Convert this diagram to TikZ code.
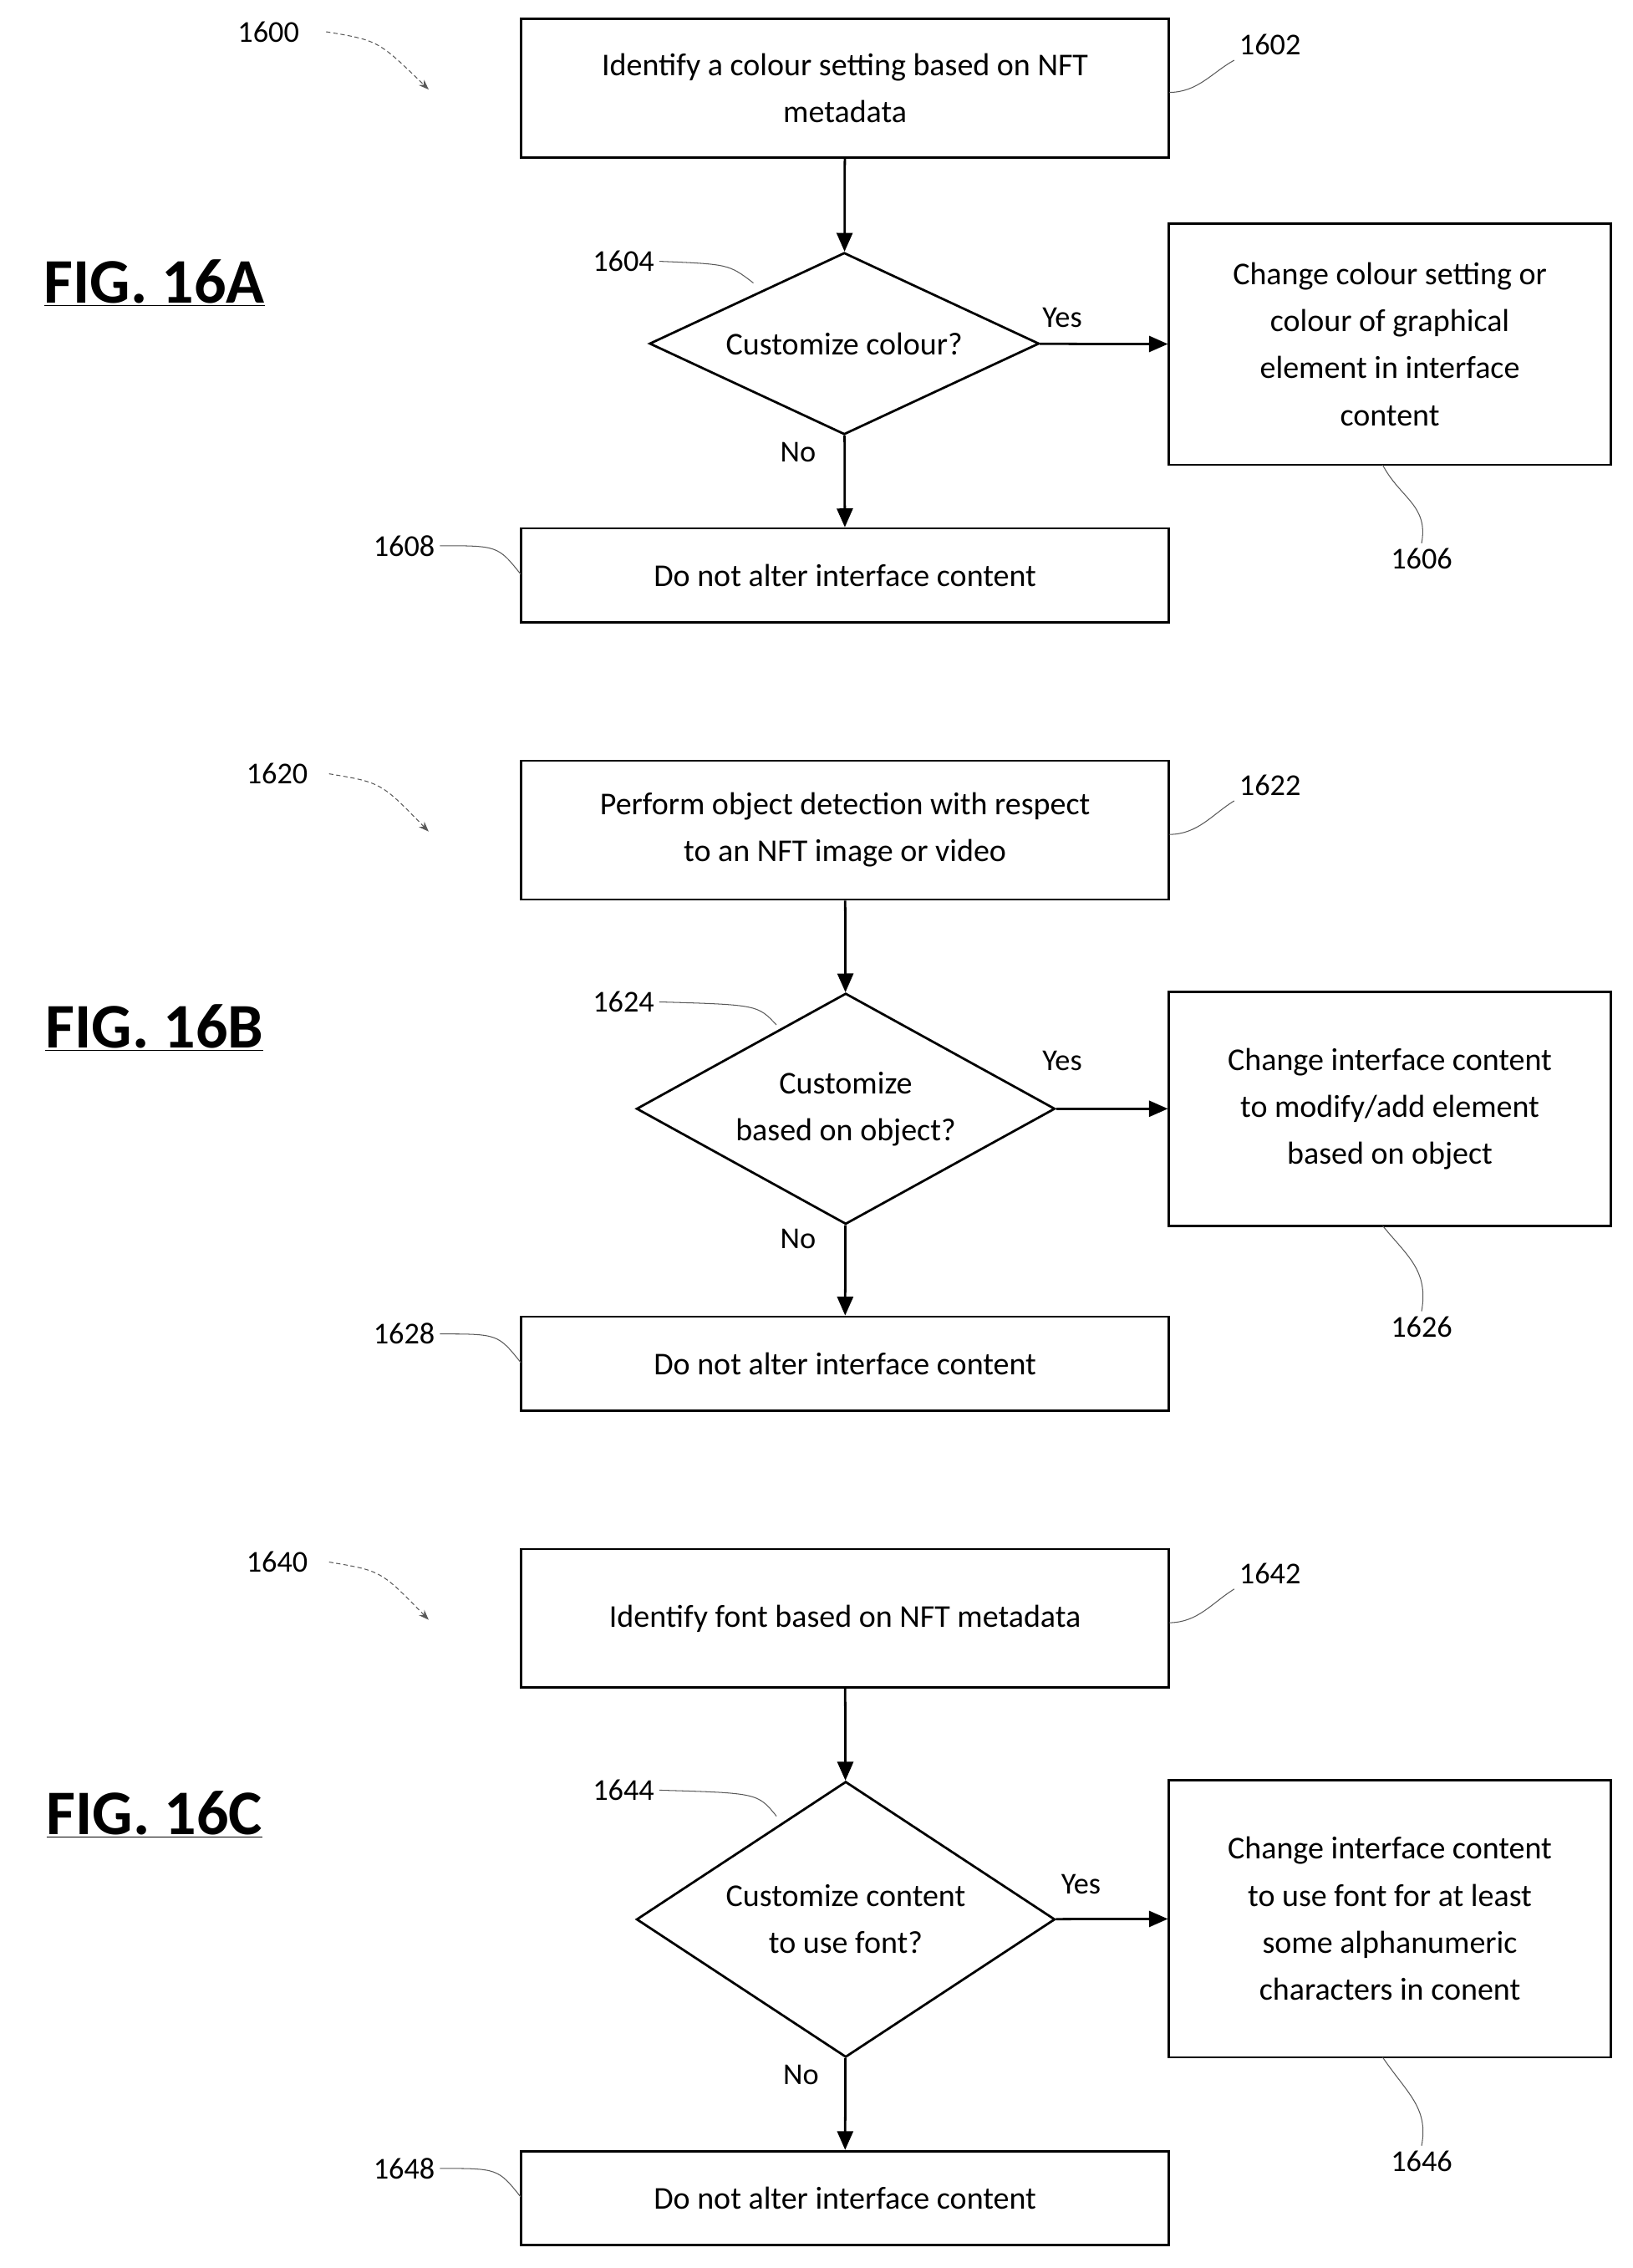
\documentclass[tikz,border=0pt]{standalone}
\usepackage{fontspec}
\setmainfont{Carlito}
\usetikzlibrary{shapes.geometric,arrows.meta}
\begin{document}
\begin{tikzpicture}[x=1pt,y=-1pt,
  box/.style={draw,line width=1.6pt,align=center,inner sep=0pt},
  dia/.style={draw,diamond,line width=1.6pt,inner sep=0pt},
  txt/.style={font=\fontsize{22}{32.5}\selectfont,align=center},
  lbl/.style={font=\fontsize{21}{24}\selectfont},
  fig/.style={font=\fontsize{44}{48}\selectfont\bfseries},
  flow/.style={line width=1.6pt,-{Triangle[length=13pt,width=11pt]}},
  lead/.style={line width=0.6pt,gray!70!black},
  ref/.style={line width=0.6pt,gray!70!black,densely dashed,-{Stealth[length=7pt]}}]
\useasboundingbox (0,0) rectangle (1131,1571);

%% FIG. 16A
\node[fig] (figA) at (107,196) {\underline{FIG. 16A}};
\node[box,minimum width=449,minimum height=96] (b1602) at (585.5,61) {};
\node[txt] at (b1602) {Identify a colour setting based on NFT\\metadata};
\node[dia,minimum width=270,minimum height=126] (d1604) at (585,238) {};
\node[txt] at (d1604) {Customize colour?};
\node[box,minimum width=306,minimum height=167] (b1606) at (963,238.5) {};
\node[txt] at (b1606) {Change colour setting or\\colour of graphical\\element in interface\\content};
\node[box,minimum width=449,minimum height=65] (b1608) at (585.5,398.5) {};
\node[txt] at (b1608) {Do not alter interface content};
\draw[flow] (b1602) -- (d1604);
\draw[flow] (d1604) -- (b1606);
\draw[flow] (d1604) -- (b1608);
\node[lbl] at (736,220) {Yes};
\node[lbl] at (553,313) {No};
\node[lbl] (n1600) at (186,22) {1600};
\draw[ref] (226,22) .. controls (262,28) .. (297,62);
\node[lbl] (n1602) at (880,31) {1602};
\draw[lead] (810,64) .. controls (830,64) and (840,50) .. (n1602.south west);
\node[lbl] (n1604) at (432,181) {1604};
\draw[lead] (n1604.east) .. controls (505,183) .. (522,196);
\node[lbl] (n1606) at (985,387) {1606};
\draw[lead] (958,322) .. controls (970,345) and (990,350) .. (n1606.north);
\node[lbl] (n1608) at (280,378) {1608};
\draw[lead] (n1608.east) .. controls (345,378) .. (361,398);

%% FIG. 16B
\node[fig] (figB) at (107,712) {\underline{FIG. 16B}};
\node[box,minimum width=449,minimum height=96] (b1622) at (585.5,575) {};
\node[txt] at (b1622) {Perform object detection with respect\\to an NFT image or video};
\node[dia,minimum width=290,minimum height=160] (d1624) at (586,768) {};
\node[txt] at (d1624) {Customize\\based on object?};
\node[box,minimum width=306,minimum height=162] (b1626) at (963,768) {};
\node[txt] at (b1626) {Change interface content\\to modify/add element\\based on object};
\node[box,minimum width=449,minimum height=65] (b1628) at (585.5,944.5) {};
\node[txt] at (b1628) {Do not alter interface content};
\draw[flow] (b1622) -- (d1624);
\draw[flow] (d1624) -- (b1626);
\draw[flow] (d1624) -- (b1628);
\node[lbl] at (736,735) {Yes};
\node[lbl] at (553,858) {No};
\node[lbl] (n1620) at (192,536) {1620};
\draw[ref] (228,536) .. controls (264,542) .. (297,576);
\node[lbl] (n1622) at (880,544) {1622};
\draw[lead] (810,578) .. controls (830,578) and (840,564) .. (n1622.south west);
\node[lbl] (n1624) at (432,694) {1624};
\draw[lead] (n1624.east) .. controls (525,696) .. (538,710);
\node[lbl] (n1626) at (985,919) {1626};
\draw[lead] (958,849) .. controls (975,870) and (990,880) .. (n1626.north);
\node[lbl] (n1628) at (280,924) {1628};
\draw[lead] (n1628.east) .. controls (345,924) .. (361,944);

%% FIG. 16C
\node[fig] (figC) at (107,1257) {\underline{FIG. 16C}};
\node[box,minimum width=449,minimum height=96] (b1642) at (585.5,1121) {};
\node[txt] at (b1642) {Identify font based on NFT metadata};
\node[dia,minimum width=290,minimum height=191] (d1644) at (586,1329.5) {};
\node[txt] at (d1644) {Customize content\\to use font?};
\node[box,minimum width=306,minimum height=192] (b1646) at (963,1329) {};
\node[txt] at (b1646) {Change interface content\\to use font for at least\\some alphanumeric\\characters in conent};
\node[box,minimum width=449,minimum height=65] (b1648) at (585.5,1522.5) {};
\node[txt] at (b1648) {Do not alter interface content};
\draw[flow] (b1642) -- (d1644);
\draw[flow] (d1644) -- (b1646);
\draw[flow] (d1644) -- (b1648);
\node[lbl] at (749,1305) {Yes};
\node[lbl] at (555,1437) {No};
\node[lbl] (n1640) at (192,1082) {1640};
\draw[ref] (228,1082) .. controls (264,1088) .. (297,1122);
\node[lbl] (n1642) at (880,1090) {1642};
\draw[lead] (810,1124) .. controls (830,1124) and (840,1110) .. (n1642.south west);
\node[lbl] (n1644) at (432,1240) {1644};
\draw[lead] (n1644.east) .. controls (525,1242) .. (538,1258);
\node[lbl] (n1646) at (985,1497) {1646};
\draw[lead] (958,1425) .. controls (975,1450) and (990,1460) .. (n1646.north);
\node[lbl] (n1648) at (280,1502) {1648};
\draw[lead] (n1648.east) .. controls (345,1502) .. (361,1522);
\end{tikzpicture}
\end{document}
